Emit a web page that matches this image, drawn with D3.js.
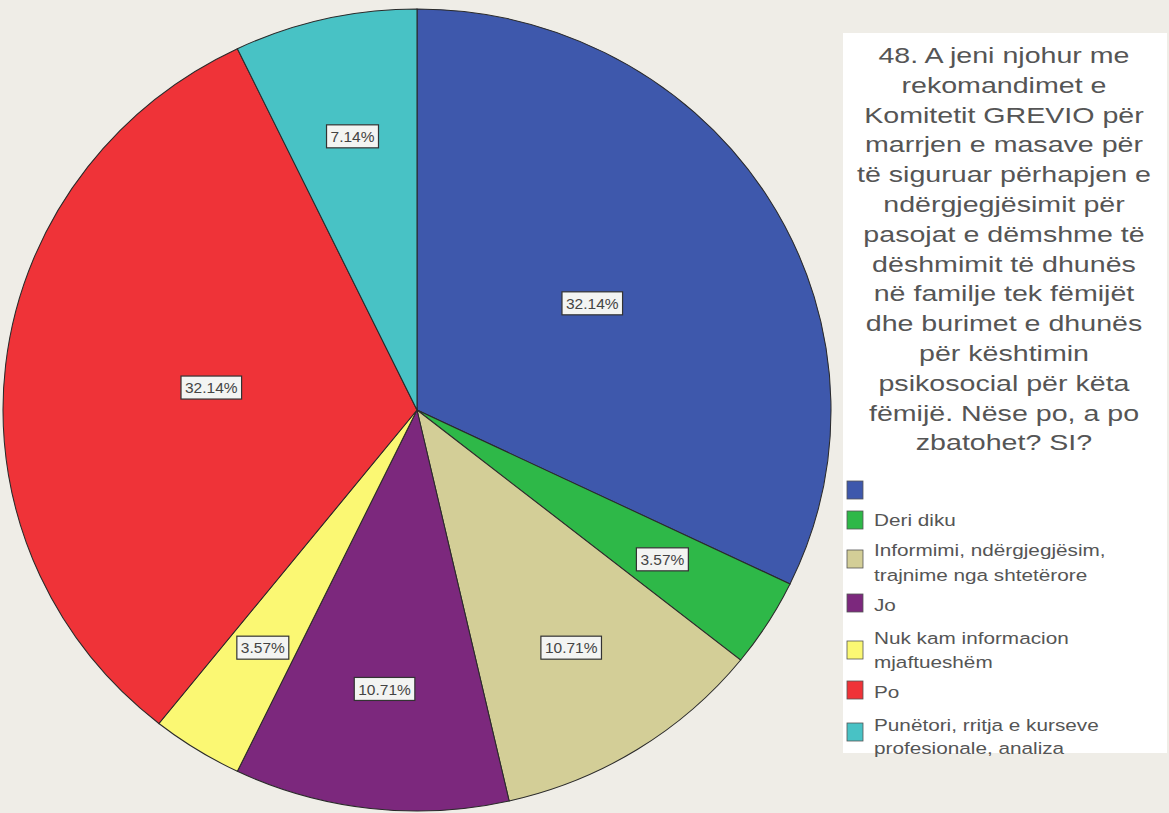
<!DOCTYPE html>
<html><head><meta charset="utf-8">
<script src="https://cdnjs.cloudflare.com/ajax/libs/d3/7.8.5/d3.min.js"></script>
<style>html,body{margin:0;padding:0;background:#efede7;}svg{display:block;}</style>
</head><body>
<svg id="chart" width="1169" height="813"></svg>
<script>
const categories = ["", "Deri diku", "Informimi, ndërgjegjësim,\ntrajnime nga shtetërore", "Jo", "Nuk kam informacion\nmjaftueshëm", "Po", "Punëtori, rritja e kurseve\nprofesionale, analiza"];
const counts = [9, 1, 3, 3, 1, 9, 2];
const colors = ["#3E58AC", "#2EB848", "#D3CE97", "#7C287D", "#FBF873", "#EF3338", "#48C2C5"];
const titleLines = ["48. A jeni njohur me", "rekomandimet e", "Komitetit GREVIO për", "marrjen e masave për", "të siguruar përhapjen e", "ndërgjegjësimit për", "pasojat e dëmshme të", "dëshmimit të dhunës", "në familje tek fëmijët", "dhe burimet e dhunës", "për kështimin", "psikosocial për këta", "fëmijë. Nëse po, a po", "zbatohet? SI?"];

const svg = d3.select("#chart");
const cx = 417, cy = 410, rx = 414, ry = 401;
const total = d3.sum(counts);
const data = categories.map((c, i) => ({cat: c, value: counts[i], color: colors[i]}));
const pie = d3.pie().sort(null).value(d => d.value);
const arcs = pie(data);
const arc = d3.arc().innerRadius(0).outerRadius(ry);

const g = svg.append("g").attr("transform", `translate(${cx},${cy}) scale(${rx/ry},1)`);
g.selectAll("path").data(arcs).join("path")
  .attr("d", arc)
  .attr("fill", d => d.data.color)
  .attr("stroke", "#2a2a2a")
  .attr("stroke-width", 1);

const fmt = v => (v / total * 100).toFixed(2) + "%";
const lg = svg.append("g");
arcs.forEach(a => {
  const mid = (a.startAngle + a.endAngle) / 2;
  const f = a.data.value / total > 0.2 ? 0.5 : 0.7;
  const x = cx + Math.sin(mid) * rx * f;
  const y = cy - Math.cos(mid) * ry * f;
  const grp = lg.append("g");
  const t = grp.append("text").attr("x", x).attr("y", y).attr("dy", "0.36em")
    .attr("text-anchor", "middle").attr("font-family", "Arial, Liberation Sans, sans-serif")
    .attr("font-size", 15.5).attr("fill", "#444").text(fmt(a.data.value));
  const w = t.node().getComputedTextLength() + 8;
  grp.insert("rect", "text").attr("x", x - w/2).attr("y", y - 11.5).attr("width", w).attr("height", 23)
    .attr("fill", "#f3f4f2").attr("stroke", "#333").attr("stroke-width", 1.2);
});

// Legend panel
svg.append("rect").attr("x", 843).attr("y", 33).attr("width", 324).attr("height", 720).attr("fill", "#ffffff");
const tt = svg.append("text").attr("font-family", "Arial, Liberation Sans, sans-serif")
  .attr("font-size", 22).attr("fill", "#555").attr("text-anchor", "middle")
  .attr("transform", "translate(1004,0) scale(1.3,1) translate(-1004,0)");
titleLines.forEach((l, i) => {
  tt.append("tspan").attr("x", 1004).attr("y", 63 + i * 29.8).text(l);
});

const swY = [490, 520, 559, 603, 650, 690, 732];
const txtY = [[490], [520], [550, 575], [605], [638, 662], [692], [725, 748]];
data.forEach((d, i) => {
  svg.append("rect").attr("x", 847).attr("y", swY[i] - 9).attr("width", 16).attr("height", 18)
    .attr("fill", d.color).attr("stroke", "#555").attr("stroke-width", 0.8);
  const lines = d.cat.split("\n");
  lines.forEach((l, j) => {
    if (!l) return;
    svg.append("text").attr("x", 874).attr("y", txtY[i][j]).attr("dy", "0.36em")
      .attr("font-family", "Arial, Liberation Sans, sans-serif").attr("font-size", 17)
      .attr("fill", "#555").attr("transform", "translate(874,0) scale(1.22,1) translate(-874,0)")
      .text(l);
  });
});
</script>
</body></html>
